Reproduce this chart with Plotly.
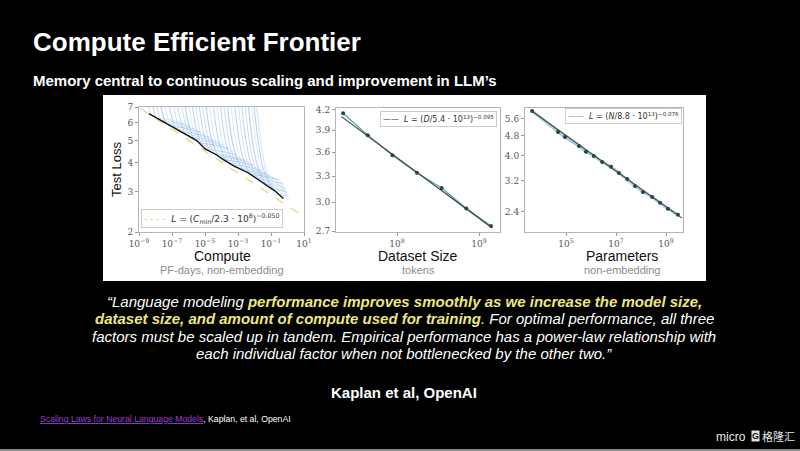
import plotly.graph_objects as go

# --- CONFIG ---
W, H = 800, 451
SANS = 'Liberation Sans'
SERIF = 'DejaVu Serif'

# --- DATA: compute panel (log10 of PF-days, test loss) ---
frontier_logc = [-8.4, -7.35, -6.43, -5.5, -5.0, -4.37, -3.86, -3.24, -2.41, -1.59, -0.77, -0.25]
frontier_loss = [6.55, 5.93, 5.44, 5.0, 4.6, 4.36, 4.12, 3.87, 3.63, 3.30, 3.02, 2.80]
fit_c_logc = [-8.9, 1.0]
fit_c_loss = [6.9, 2.33]

# learning curves, one per model size
curve_logc = [
    [-8.7, -8.45, -8.2, -7.2, -6.2],
    [-8.45, -8.18, -7.9, -6.9, -5.9],
    [-8.2, -7.9, -7.6, -6.6, -5.6],
    [-7.93, -7.62, -7.3, -6.3, -5.3],
    [-7.65, -7.33, -7.0, -6.0, -5.0],
    [-7.38, -7.04, -6.7, -5.7, -4.7],
    [-7.1, -6.75, -6.4, -5.4, -4.4],
    [-6.85, -6.48, -6.1, -5.1, -4.1],
    [-6.6, -6.2, -5.8, -4.8, -3.8],
    [-6.38, -5.97, -5.55, -4.55, -3.55],
    [-6.15, -5.73, -5.3, -4.3, -3.3],
    [-5.93, -5.49, -5.05, -4.05, -3.05],
    [-5.7, -5.25, -4.8, -3.8, -2.8],
    [-5.5, -5.03, -4.55, -3.55, -2.55],
    [-5.3, -4.8, -4.3, -3.3, -2.3],
    [-5.08, -4.57, -4.05, -3.05, -2.05],
    [-4.85, -4.33, -3.8, -2.8, -1.8],
    [-4.63, -4.09, -3.55, -2.55, -1.55],
    [-4.4, -3.85, -3.3, -2.3, -1.3],
    [-4.2, -3.63, -3.05, -2.05, -1.05],
    [-4.0, -3.4, -2.8, -1.8, -0.8],
    [-3.78, -3.17, -2.55, -1.55, -0.55],
    [-3.55, -2.93, -2.3, -1.3, -0.3],
    [-3.33, -2.69, -2.05, -1.05, -0.25],
    [-3.1, -2.45, -1.8, -0.8, -0.2],
    [-2.9, -2.23, -1.55, -0.75, -0.15],
    [-2.7, -2.0, -1.3, -0.7, -0.1],
    [-2.5, -1.78, -1.05, -0.55, -0.05],
    [-2.3, -1.55, -0.8, -0.4, 0.0],
    [-2.15, -1.38, -0.6, -0.28, 0.05],
    [-2.0, -1.2, -0.4, -0.15, 0.1],
]
curve_loss = [
    [9.0, 7.32, 6.42, 6.18, 5.94],
    [9.0, 7.15, 6.25, 6.01, 5.78],
    [9.0, 6.98, 6.07, 5.84, 5.61],
    [9.0, 6.79, 5.90, 5.68, 5.46],
    [9.0, 6.60, 5.74, 5.52, 5.31],
    [9.0, 6.45, 5.58, 5.37, 5.16],
    [9.0, 6.30, 5.43, 5.22, 5.02],
    [9.0, 6.13, 5.28, 5.08, 4.88],
    [9.0, 5.96, 5.14, 4.94, 4.75],
    [9.0, 5.81, 4.99, 4.80, 4.62],
    [9.0, 5.66, 4.84, 4.66, 4.48],
    [9.0, 5.47, 4.68, 4.50, 4.33],
    [9.0, 5.29, 4.52, 4.35, 4.18],
    [9.0, 5.20, 4.42, 4.26, 4.10],
    [9.0, 5.11, 4.33, 4.17, 4.01],
    [9.0, 4.97, 4.21, 4.05, 3.90],
    [9.0, 4.84, 4.10, 3.94, 3.79],
    [9.0, 4.74, 4.00, 3.85, 3.70],
    [9.0, 4.64, 3.90, 3.75, 3.61],
    [9.0, 4.57, 3.82, 3.67, 3.53],
    [9.0, 4.50, 3.73, 3.59, 3.45],
    [9.0, 4.40, 3.65, 3.51, 3.38],
    [9.0, 4.30, 3.57, 3.43, 3.30],
    [9.0, 4.20, 3.48, 3.34, 3.23],
    [9.0, 4.10, 3.38, 3.25, 3.16],
    [9.0, 4.00, 3.29, 3.19, 3.10],
    [9.0, 3.90, 3.19, 3.12, 3.04],
    [9.0, 3.80, 3.10, 3.05, 2.98],
    [9.0, 3.70, 3.02, 2.97, 2.92],
    [9.0, 3.61, 2.94, 2.90, 2.86],
    [9.0, 3.52, 2.85, 2.82, 2.79],
]

# --- DATA: dataset size panel ---
data_tokens = [2.2e7, 4.4e7, 8.8e7, 1.75e8, 3.5e8, 7.0e8, 1.4e9]
data_loss = [4.15, 3.83, 3.56, 3.34, 3.16, 2.93, 2.75]
fit_d_tokens = [2.1e7, 1.45e9]
fit_d_loss = [4.10, 2.73]

# --- DATA: parameters panel ---
param_n = [4.4e3, 4.8e4, 9.1e4, 3.3e5, 6.3e5, 1.3e6, 2.8e6, 6.3e6, 1.3e7, 2.8e7,
           5.8e7, 1.2e8, 2.8e8, 5.8e8, 1.2e9, 3.0e9]
param_loss = [6.02, 4.97, 4.75, 4.38, 4.15, 4.00, 3.78, 3.62, 3.42, 3.24,
              3.04, 2.88, 2.75, 2.61, 2.47, 2.34]
fit_n = [4.0e3, 4.4e9]
fit_n_loss = [6.05, 2.27]

# --- TICKS ---
c_ticks = [1e-9, 1e-7, 1e-5, 1e-3, 1e-1, 1e1]
c_ticktext = ['10<sup>−9</sup>', '10<sup>−7</sup>', '10<sup>−5</sup>', '10<sup>−3</sup>', '10<sup>−1</sup>', '10<sup>1</sup>']
c_loss_ticks = [2, 3, 4, 5, 6, 7]
d_ticks = [1e8, 1e9]
d_ticktext = ['10<sup>8</sup>', '10<sup>9</sup>']
d_loss_ticks = [2.7, 3.0, 3.3, 3.6, 3.9, 4.2]
n_ticks = [1e5, 1e7, 1e9]
n_ticktext = ['10<sup>5</sup>', '10<sup>7</sup>', '10<sup>9</sup>']
n_loss_ticks = [2.4, 3.2, 4.0, 4.8, 5.6]

blues = ['#b5d4ee', '#8dbbe6', '#a6c9ea', '#79aadc', '#c4dcf2', '#86b4e2']


def px(x):
    return x / W


def py(y):
    return 1 - y / H


fig = go.Figure()

# learning curves
for i, (lc, ll) in enumerate(zip(curve_logc, curve_loss)):
    fig.add_trace(go.Scatter(x=[10 ** v for v in lc], y=ll, mode='lines', line_shape='spline',
                             line=dict(color=blues[i % len(blues)], width=0.8), opacity=0.75,
                             showlegend=False, xaxis='x', yaxis='y', hoverinfo='skip'))
# fit (yellow dashed)
fig.add_trace(go.Scatter(x=[10 ** v for v in fit_c_logc], y=fit_c_loss, mode='lines',
                         line=dict(color='#e4d27c', width=1.2, dash='dash'),
                         showlegend=False, xaxis='x', yaxis='y'))
# frontier
fig.add_trace(go.Scatter(x=[10 ** v for v in frontier_logc], y=frontier_loss, mode='lines',
                         line=dict(color='#111111', width=1.3), showlegend=False, xaxis='x', yaxis='y'))

# dataset size
fig.add_trace(go.Scatter(x=data_tokens, y=data_loss, mode='lines+markers',
                         line=dict(color='#4fa8ab', width=1.3), marker=dict(color='#1f4a50', size=4),
                         showlegend=False, xaxis='x2', yaxis='y2'))
fig.add_trace(go.Scatter(x=fit_d_tokens, y=fit_d_loss, mode='lines', line=dict(color='#3a3a3a', width=1.1),
                         showlegend=False, xaxis='x2', yaxis='y2'))

# parameters
fig.add_trace(go.Scatter(x=param_n, y=param_loss, mode='lines+markers',
                         line=dict(color='#9fd0dc', width=3), marker=dict(color='#243f46', size=4),
                         showlegend=False, xaxis='x3', yaxis='y3'))
fig.add_trace(go.Scatter(x=fit_n, y=fit_n_loss, mode='lines', line=dict(color='#454545', width=1.1),
                         showlegend=False, xaxis='x3', yaxis='y3'))


def ax(domain, rng, tickvals, ticktext=None, anchor=None):
    d = dict(type='log', domain=domain, range=rng, tickvals=tickvals, showline=True, mirror=True,
             linecolor='#b5b5b5', linewidth=1, ticks='outside', ticklen=3, tickcolor='#999999',
             tickfont=dict(family=SERIF, size=9, color='#555555'), showgrid=False, zeroline=False,
             anchor=anchor, automargin=False)
    if ticktext is not None:
        d['ticktext'] = ticktext
    return d


fig.update_layout(
    width=W, height=H, autosize=False,
    margin=dict(l=0, r=0, t=0, b=0, pad=0, autoexpand=False),
    paper_bgcolor='black', plot_bgcolor='white',
    showlegend=False,
    xaxis=ax([px(139), px(304)], [-9, 1], c_ticks, c_ticktext, 'y'),
    yaxis=ax([py(232), py(107)], [0.30103, 0.845098], c_loss_ticks, None, 'x'),
    xaxis2=ax([px(336), px(500)], [7.256, 9.256], d_ticks, d_ticktext, 'y2'),
    yaxis2=ax([py(232), py(108)], [0.4298, 0.6264], d_loss_ticks,
              ['%.1f' % v for v in d_loss_ticks], 'x2'),
    xaxis3=ax([px(525), px(683)], [3.36, 9.68], n_ticks, n_ticktext, 'y3'),
    yaxis3=ax([py(232), py(108)], [0.301, 0.7915], n_loss_ticks,
              ['%.1f' % v for v in n_loss_ticks], 'x3'),
    shapes=[
        dict(type='rect', xref='paper', yref='paper', x0=px(103), x1=px(706), y0=py(281), y1=py(95),
             fillcolor='white', line=dict(width=0), layer='below'),
        dict(type='rect', xref='paper', yref='paper', x0=0, x1=1, y0=0, y1=py(449),
             fillcolor='#8a8a8a', line=dict(width=0), layer='below'),
    ],
)


def note(text, x, y, size, color='white', xanchor='center', yanchor='middle', family=SANS, **kw):
    fig.add_annotation(text=text, x=px(x), y=py(y), xref='paper', yref='paper', showarrow=False,
                       xanchor=xanchor, yanchor=yanchor, font=dict(family=family, size=size, color=color), **kw)


# legends (boxed keys)
key_style = dict(color='#333333', family='DejaVu Sans', bgcolor='white', bordercolor='#cccccc',
                 borderwidth=1, borderpad=2, yanchor='top')
note("<span style='color:#dcc45a'>- - - -</span>  <i>L</i> = (<i>C</i><sub>min</sub>/2.3 · 10<sup>8</sup>)<sup>−0.050</sup>",
     141, 209, 9, xanchor='left', **key_style)
note("<span style='color:#555555'>——</span>  <i>L</i> = (<i>D</i>/5.4 · 10<sup>13</sup>)<sup>−0.095</sup>",
     497, 111, 8, xanchor='right', **key_style)
note("<span style='color:#8aa0a0'>——</span>  <i>L</i> = (<i>N</i>/8.8 · 10<sup>13</sup>)<sup>−0.076</sup>",
     682, 108, 8, xanchor='right', **key_style)

# titles
note('<b>Compute Efficient Frontier</b>', 31, 42, 26, xanchor='left')
note('<b>Memory central to continuous scaling and improvement in LLM’s</b>', 31, 80, 15, xanchor='left')

# axis titles
note('Test Loss', 116, 169, 13, color='#111111', textangle=-90)
note('Compute', 222, 256, 14, color='#111111')
note('PF-days, non-embedding', 222, 270, 11, color='#8c8c8c')
note('Dataset Size', 418, 256, 14, color='#111111')
note('tokens', 418, 270, 11, color='#8c8c8c')
note('Parameters', 622, 256, 14, color='#111111')
note('non-embedding', 622, 270, 11, color='#8c8c8c')

# quote
YEL = "<b><span style='color:#ece87c'>"
quote_lines = [
    '<i>“Language modeling ' + YEL + 'performance improves smoothly as we increase the model size,</span></b></i>',
    '<i>' + YEL + 'dataset size, and amount of compute used for training</span></b>. For optimal performance, all three</i>',
    '<i>factors must be scaled up in tandem. Empirical performance has a power-law relationship with</i>',
    '<i>each individual factor when not bottlenecked by the other two.”</i>',
]
for k, line in enumerate(quote_lines):
    note(line, 404, 301 + 17.5 * k, 15)

note('<b>Kaplan et al, OpenAI</b>', 404, 392, 15)
note("<span style='color:#9b3fd2'><u>Scaling Laws for Neural Language Models</u></span>, Kaplan, et al, OpenAI",
     38, 419, 8.7, xanchor='left')

# watermark
note('micro', 731, 437, 12, color='#e8e8e8')
note('<b>G</b>', 755, 436, 9, color='#111111', bgcolor='#e0e0e0', borderpad=0)
note('格隆汇', 797, 436, 11, color='#e8e8e8', xanchor='right', family='Noto Sans CJK SC')

fig.write_html('out.html', config={'displayModeBar': False},
               post_script="document.body.style.margin='0';")
